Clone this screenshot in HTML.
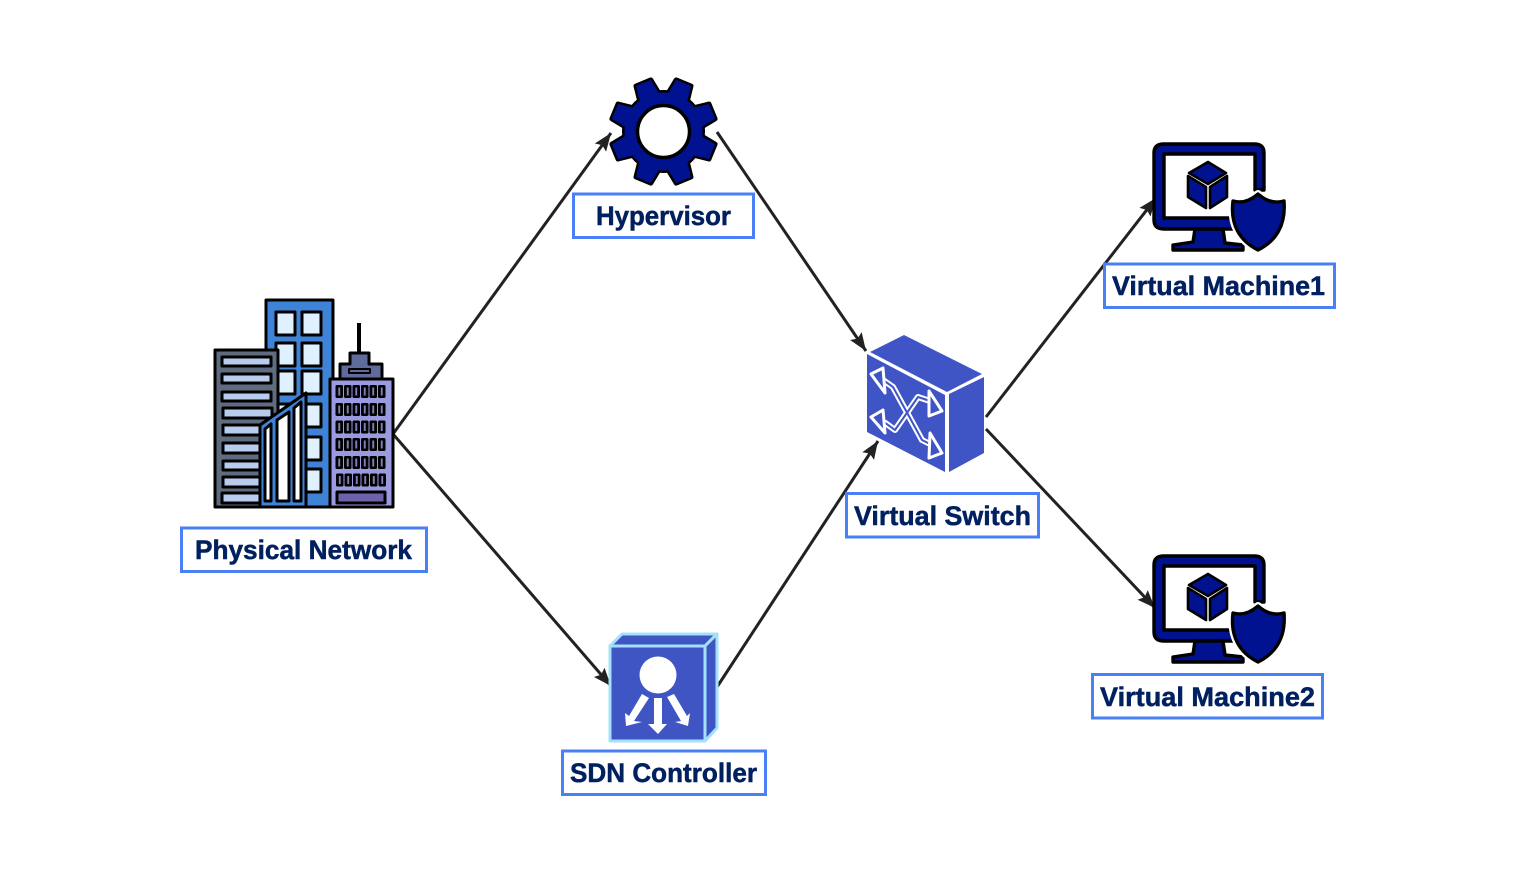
<!DOCTYPE html>
<html>
<head>
<meta charset="utf-8">
<style>
html,body{margin:0;padding:0;background:#fff;width:1516px;height:872px;overflow:hidden}
svg{display:block}
text{font-family:"Liberation Sans",sans-serif;font-weight:700;fill:#002060;stroke:#002060;stroke-width:.5;font-size:27px}
.lb{fill:#fff;stroke:#4a80f5;stroke-width:3}
.ar{stroke:#222;stroke-width:3;fill:none}
</style>
</head>
<body>
<svg width="1516" height="872" viewBox="0 0 1516 872" xmlns="http://www.w3.org/2000/svg">
<defs>
<marker id="ah" markerUnits="userSpaceOnUse" markerWidth="20" markerHeight="16" refX="18" refY="8" orient="auto">
<path d="M0,1 L18,8 L0,15 L3,8 Z" fill="#222"/>
</marker>
<g id="teeth">
<circle cx="0" cy="0" r="39"/>
<path d="M-10.500,-36 L-8,-52.500 L8,-52.500 L10.500,-36 Z" transform="rotate(22.5)"/>
<path d="M-10.500,-36 L-8,-52.500 L8,-52.500 L10.500,-36 Z" transform="rotate(67.5)"/>
<path d="M-10.500,-36 L-8,-52.500 L8,-52.500 L10.500,-36 Z" transform="rotate(112.5)"/>
<path d="M-10.500,-36 L-8,-52.500 L8,-52.500 L10.500,-36 Z" transform="rotate(157.5)"/>
<path d="M-10.500,-36 L-8,-52.500 L8,-52.500 L10.500,-36 Z" transform="rotate(202.5)"/>
<path d="M-10.500,-36 L-8,-52.500 L8,-52.500 L10.500,-36 Z" transform="rotate(247.5)"/>
<path d="M-10.500,-36 L-8,-52.500 L8,-52.500 L10.500,-36 Z" transform="rotate(292.5)"/>
<path d="M-10.500,-36 L-8,-52.500 L8,-52.500 L10.500,-36 Z" transform="rotate(337.5)"/>
</g>
<g id="vm">
<path d="M1255,190 V154 H1164 V218 H1232 L1236,229 H1164 Q1154,229 1154,220 V153 Q1154,144 1164,144 H1254 Q1264,144 1264,153 V190 Z" fill="#00128f" stroke="#000" stroke-width="3.400" stroke-linejoin="round"/>
<path d="M1195,229 H1223 L1225,243 L1243,245 V250 H1173 V245 L1193,242 Z" fill="#00128f" stroke="#000" stroke-width="3.400" stroke-linejoin="round"/>
<path d="M1208,162 L1226,173 L1208,184 L1189,173 Z" fill="#00128f" stroke="#000" stroke-width="2.600" stroke-linejoin="round"/>
<path d="M1188,176 L1206,187 V208 L1188,197 Z" fill="#00128f" stroke="#000" stroke-width="2.600" stroke-linejoin="round"/>
<path d="M1210,187 L1227,176 V197 L1210,208 Z" fill="#00128f" stroke="#000" stroke-width="2.600" stroke-linejoin="round"/>
<path d="M1258,194 C1251,200 1243,204 1233,201 C1230,225 1240,241 1258,250 C1276,241 1286,225 1284,201 C1273,204 1265,200 1258,194 Z" fill="#fff" stroke="#fff" stroke-width="8" stroke-linejoin="round"/>
<path d="M1258,194 C1251,200 1243,204 1233,201 C1230,225 1240,241 1258,250 C1276,241 1286,225 1284,201 C1273,204 1265,200 1258,194 Z" fill="#00128f" stroke="#000" stroke-width="3.400" stroke-linejoin="round"/>
</g>
<g id="win"><rect x="0" y="0" width="7.500" height="13" rx="1.500" fill="#000"/><rect x="2.800" y="2.500" width="1.900" height="8" fill="#7f80bb"/></g>
<g id="winrow"><use href="#win"/><use href="#win" x="8.500"/><use href="#win" x="17"/><use href="#win" x="25.500"/><use href="#win" x="34"/><use href="#win" x="42.500"/></g>
</defs>

<!-- connectors -->
<line class="ar" x1="393" y1="434" x2="611" y2="133" marker-end="url(#ah)"/>
<line class="ar" x1="393" y1="434" x2="611" y2="686" marker-end="url(#ah)"/>
<line class="ar" x1="717" y1="132" x2="866" y2="351" marker-end="url(#ah)"/>
<line class="ar" x1="717" y1="687" x2="878" y2="441" marker-end="url(#ah)"/>
<line class="ar" x1="986" y1="417" x2="1156" y2="198" marker-end="url(#ah)"/>
<line class="ar" x1="986" y1="429" x2="1155" y2="608" marker-end="url(#ah)"/>

<!-- buildings -->
<g stroke="#000" stroke-width="3" stroke-linejoin="round">
<rect x="266" y="300" width="67" height="207" fill="#3f83d6"/>
<g fill="#dff1ff">
<rect x="276" y="312" width="19" height="23"/><rect x="302" y="312" width="19" height="23"/>
<rect x="276" y="343" width="19" height="23"/><rect x="302" y="343" width="19" height="23"/>
<rect x="276" y="371" width="19" height="23"/><rect x="302" y="371" width="19" height="23"/>
<rect x="276" y="404" width="19" height="23"/><rect x="302" y="404" width="19" height="23"/>
<rect x="276" y="437" width="19" height="23"/><rect x="302" y="437" width="19" height="23"/>
<rect x="276" y="469" width="19" height="23"/><rect x="302" y="469" width="19" height="23"/>
</g>
<rect x="215" y="350" width="63" height="157" fill="#5f6b7f"/>
<g fill="#b8cdee">
<rect x="222" y="357" width="49" height="9"/>
<rect x="222" y="374" width="49" height="9"/>
<rect x="222" y="392" width="49" height="9"/>
<rect x="223" y="408" width="49" height="10"/>
<rect x="223" y="425" width="49" height="10"/>
<rect x="223" y="443" width="49" height="10"/>
<rect x="223" y="461" width="49" height="9"/>
<rect x="223" y="477" width="49" height="10"/>
<rect x="222" y="493" width="49" height="10"/>
</g>
<path d="M260,425 L306,393 V507 H260 Z" fill="#3f83d6"/>
<path d="M265,429 L271,424 V501 H265 Z" fill="#fff"/>
<path d="M277,420 L289,412 V501 H277 Z" fill="#fff"/>
<path d="M294,408 L301,402 V501 H294 Z" fill="#fff"/>
<rect x="330" y="379" width="63" height="128" fill="#9a9ae0"/>
<line x1="359" y1="323" x2="359" y2="353" stroke-width="4"/>
<path d="M350,353 H369 V364 H382 V379 H340 V364 H350 Z" fill="#5f6b9a"/>
<rect x="349" y="369" width="21" height="4" fill="#5f6b9a" stroke-width="2"/>
<rect x="337" y="492" width="48" height="11" fill="#6f62ac"/>
</g>
<g>
<use href="#winrow" x="335.500" y="385"/>
<use href="#winrow" x="335.500" y="403"/>
<use href="#winrow" x="335.500" y="420.500"/>
<use href="#winrow" x="335.500" y="438"/>
<use href="#winrow" x="335.500" y="456"/>
<use href="#winrow" x="336" y="473.500"/>
</g>

<!-- gear -->
<g transform="translate(663.500,131.500)">
<use href="#teeth" fill="#000" stroke="#000" stroke-width="5" stroke-linejoin="round"/>
<use href="#teeth" fill="#00128f"/>
<circle cx="0" cy="0" r="26" fill="#fff" stroke="#000" stroke-width="3.500"/>
</g>

<!-- SDN controller -->
<g stroke="#a5e0fb" stroke-width="3" stroke-linejoin="round" fill="#3f55c4">
<path d="M610,646 L622,634 H717 L705,646 Z"/>
<path d="M705,646 L717,634 V728 L705,741 Z"/>
<rect x="610" y="646" width="95" height="95"/>
</g>
<circle cx="658" cy="675" r="18.500" fill="#fff"/>
<g fill="#fff">
<path d="M654,698 H662 V724 H667 L658,734 L648,724 H654 Z"/>
<path d="M642,694 L649,698 L634,721 L642,722 L626,726 L625,713 L629,716 Z"/>
<path d="M667,697 L674,694 L687,716 L690,713 L688,726 L675,722 L681,721 Z"/>
</g>

<!-- switch -->
<g fill="#4055c5">
<path d="M870,352 L904,335 L982,374 L947,392 Z"/>
<path d="M867,354 L945,395 V472 L867,432 Z"/>
<path d="M949,394 L984,377 V453 L949,472 Z"/>
</g>
<g fill="none" stroke="#fff" stroke-width="6" stroke-linejoin="round">
<polyline points="883,380 893,387 922,440 932,445"/>
<polyline points="884,422 895,430 918,397 930,401"/>
</g>
<g fill="none" stroke="#4055c5" stroke-width="2" stroke-linejoin="round">
<polyline points="883,380 893,387 922,440 932,445"/>
<polyline points="884,422 895,430 918,397 930,401"/>
</g>
<g fill="#4055c5" stroke="#fff" stroke-width="3" stroke-linejoin="round">
<path d="M871,374 L883,368 L885,393 Z"/>
<path d="M942,453 L930,433 L929,458 Z"/>
<path d="M871,417 L883,410 L885,433 Z"/>
<path d="M942,411 L929,391 L929,416 Z"/>
</g>

<!-- VMs -->
<use href="#vm"/>
<use href="#vm" y="412"/>

<!-- labels -->
<rect class="lb" x="181.500" y="528" width="245" height="43.500"/>
<text x="195" y="559" textLength="217" lengthAdjust="spacingAndGlyphs">Physical Network</text>
<rect class="lb" x="573.500" y="194" width="180" height="43.500"/>
<text x="596" y="225" textLength="135" lengthAdjust="spacingAndGlyphs">Hypervisor</text>
<rect class="lb" x="846.500" y="493.500" width="192" height="43.500"/>
<text x="854" y="525" textLength="177" lengthAdjust="spacingAndGlyphs">Virtual Switch</text>
<rect class="lb" x="1104.500" y="264" width="230" height="43.500"/>
<text x="1112" y="295" textLength="213" lengthAdjust="spacingAndGlyphs">Virtual Machine1</text>
<rect class="lb" x="1092.500" y="674.500" width="230" height="43.500"/>
<text x="1100" y="706" textLength="215" lengthAdjust="spacingAndGlyphs">Virtual Machine2</text>
<rect class="lb" x="562.500" y="751" width="203" height="43.500"/>
<text x="570" y="782" textLength="187" lengthAdjust="spacingAndGlyphs">SDN Controller</text>
</svg>
</body>
</html>
